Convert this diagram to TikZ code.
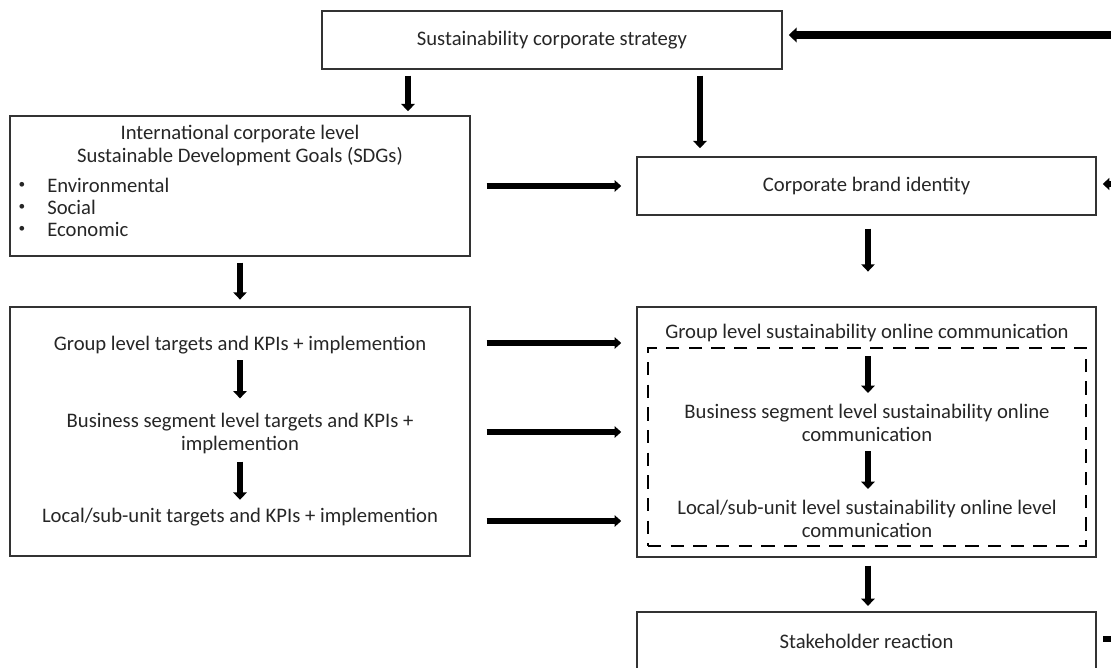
\documentclass[tikz,border=0pt]{standalone}
\usepackage{fontspec}
\setmainfont{Carlito}
\usetikzlibrary{arrows.meta,calc}
\begin{document}
\begin{tikzpicture}[x=0.75pt,y=-0.75pt,
  box/.style={draw=black!80,line width=1.1pt,inner sep=0pt},
  txt/.style={inner sep=0pt,font=\fontsize{15.5pt}{17.25pt}\selectfont,text=black!85,align=center},
  bul/.style={inner sep=0pt,font=\fontsize{10pt}{12pt}\selectfont,text=black!85},
  arr/.style={line width=5pt,-{Triangle[length=5.5pt,width=10pt]}},
  harr/.style={line width=4.4pt,-{Triangle[length=5pt,width=8.5pt]}}]
\useasboundingbox (0,0) rectangle (1111,668);
% boxes
\node[box,minimum width=345pt,minimum height=43.5pt] (top) at (552,40) {};
\node[txt] at (top.center) {Sustainability corporate strategy};
\node[box,minimum width=345pt,minimum height=105pt] (lb1) at (240,186) {};
\node[box,minimum width=344.25pt,minimum height=43.5pt] (brand) at (866.5,186) {};
\node[txt] at (brand.center) {Corporate brand identity};
\node[box,minimum width=345pt,minimum height=186.75pt] (lb2) at (240,431.5) {};
\node[box,minimum width=344.25pt,minimum height=187.5pt] (rb2) at (866.5,432) {};
\node[draw=black,line width=2.2pt,dash pattern=on 10pt off 7pt,minimum width=328.5pt,minimum height=148.5pt,inner sep=0pt] (dash) at (867,447) {};
\node[box,minimum width=344.25pt,minimum height=43.5pt] (stake) at (866.5,641) {};
\node[txt] at (866.5,641) {Stakeholder reaction};
% left box 1 text
\node[txt] (i1) at (240,134) {International corporate level};
\node[txt] (i2) at (240,157) {Sustainable Development Goals (SDGs)};
\foreach \t/\y in {Environmental/185,Social/207,Economic/229}{
  \node[bul] at (22,\y) {•};
  \node[txt,anchor=west] at (47,\y) {\t};
}
% left box 2 text
\node[txt] (g1) at (240,345) {Group level targets and KPIs + implemention};
\node[txt] (g2) at (240,433) {Business segment level targets and KPIs +\\implemention};
\node[txt] (g3) at (240,517) {Local/sub-unit targets and KPIs + implemention};
% right box 2 text
\node[txt] (c1) at (867,333) {Group level sustainability online communication};
\node[txt] (c2) at (867,423) {Business segment level sustainability online\\communication};
\node[txt] (c3) at (867,519) {Local/sub-unit level sustainability online level\\communication};
% coordinates
\coordinate (xa) at (408,0);
\coordinate (xb) at (700,0);
\coordinate (xl) at (240,0);
\coordinate (xr) at (868,0);
\coordinate (edge1) at (1111,35);
\coordinate (edge2) at (1111,184);
\coordinate (stubL) at (1103,639);
\coordinate (edge3) at (1111,639);
% vertical arrows
\draw[arr,shorten <=4.5pt,shorten >=3pt] (top.south -| xa) -- (lb1.north -| xa);
\draw[arr,shorten <=4.5pt,shorten >=6pt] (top.south -| xb) -- (brand.north -| xb);
\draw[arr,shorten <=4.5pt,shorten >=5pt] (lb1.south -| xl) -- (lb2.north -| xl);
\draw[arr,shorten <=9.75pt,shorten >=26pt] (brand.south -| xr) -- (rb2.north -| xr);
\draw[arr] ($(g1.south -| xl)+(0,6)$) -- ($(g2.north -| xl)+(0,-14)$);
\draw[arr] ($(g2.south -| xl)+(0,8)$) -- ($(g3.north -| xl)+(0,-8)$);
\draw[arr] ($(c1.south -| xr)+(0,14)$) -- ($(c2.north -| xr)+(0,-11)$);
\draw[arr] ($(c2.south -| xr)+(0,9)$) -- ($(c3.north -| xr)+(0,-11)$);
\draw[arr,shorten <=6pt,shorten >=4pt] (rb2.south -| xr) -- (stake.north -| xr);
% horizontal arrows
\draw[harr,shorten <=12pt,shorten >=11.25pt] (lb1.east |- brand.center) -- (brand.west);
\draw[harr,shorten <=12pt,shorten >=11.25pt] (lb2.east |- 0,343) -- (rb2.west |- 0,343);
\draw[harr,shorten <=12pt,shorten >=11.25pt] (lb2.east |- 0,432) -- (rb2.west |- 0,432);
\draw[harr,shorten <=12pt,shorten >=11.25pt] (lb2.east |- 0,521) -- (rb2.west |- 0,521);
% feedback arrows at the right edge
\draw[line width=5.5pt,-{Triangle[length=6pt,width=11pt]},shorten >=4.5pt] (edge1) -- (top.east |- edge1);
\draw[line width=4.5pt,-{Triangle[length=5pt,width=9pt]},shorten >=4.5pt] (edge2) -- (brand.east |- edge2);
\draw[line width=4.5pt] (stubL) -- (edge3);
\end{tikzpicture}
\end{document}
